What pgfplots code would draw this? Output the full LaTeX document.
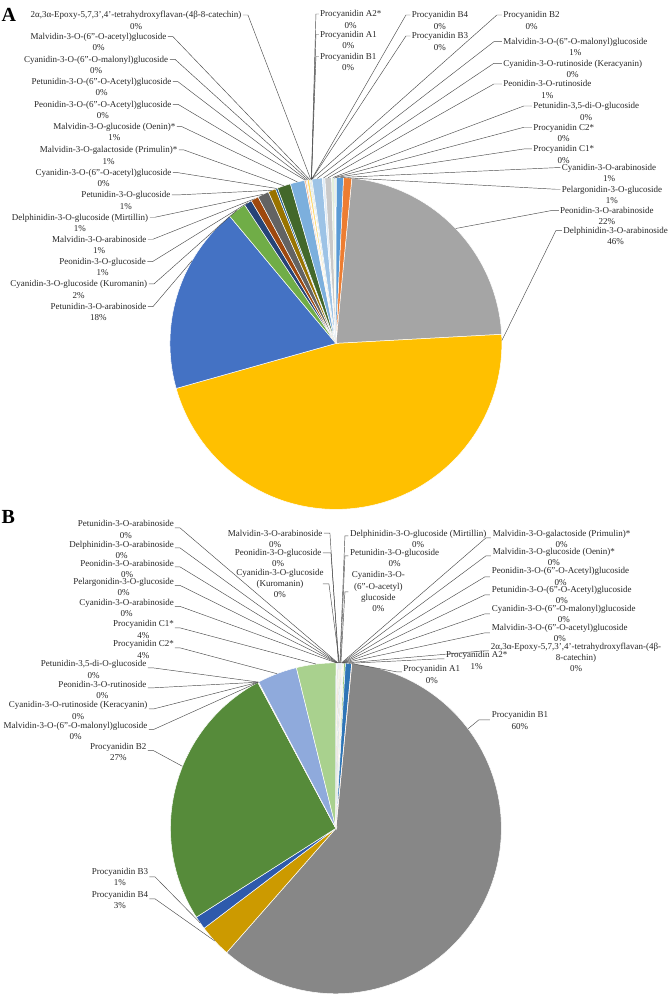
\documentclass[border=0pt]{standalone}
\usepackage{pgfplots}
\pgfplotsset{compat=1.18}
\usepackage{fontspec}
\setmainfont{Liberation Serif}

% pie state: centre, radius, running angle (deg, clockwise from top)
\newcommand\pcx{0}\newcommand\pcy{0}\newcommand\pr{0}\newcommand\cum{0}
\newcommand\setpie[4]{\xdef\pcx{#1}\xdef\pcy{#2}\xdef\pr{#3}\xdef\cum{#4}}
\newcommand\rimat[2]{%
  \pgfmathsetmacro\rimX{\pcx+\pr*sin(#2)}%
  \pgfmathsetmacro\rimY{\pcy-\pr*cos(#2)}%
  \expandafter\xdef\csname rimx#1\endcsname{\rimX}%
  \expandafter\xdef\csname rimy#1\endcsname{\rimY}}
% \slice{id}{percent}{colour}
\newcommand\slice[3]{%
  \xglobal\definecolor{sl#1}{HTML}{#3}%
  \pgfmathsetmacro\slA{\cum}%
  \pgfmathsetmacro\slB{\cum+3.6*#2}%
  \pgfmathtruncatemacro\slN{max(2,(\slB-\slA)/1.5+2)}%
  \rimat{#1}{(\slA+\slB)/2}%
  \edef\tmp{\noexpand\addplot[fill=sl#1, draw=white, line width=0.5pt,
    domain=\slA:\slB, samples=\slN]
    ({\pcx+\pr*sin(x)},{\pcy-\pr*cos(x)}) -- (axis cs:\pcx,\pcy) -- cycle;}%
  \tmp
  \xdef\cum{\slB}}

\tikzset{lbl/.style={inner sep=0pt, font=\fontsize{9}{11}\selectfont, text=black!85},
  ldr/.style={draw=black!70, line width=0.45pt}}
\newcommand\nxt[1]{\node[lbl, anchor=base, yshift=-11.2pt] (t) at (t.base) {#1};}
\newcommand\labL[4]{\node[lbl, anchor=base east, yshift=-3pt] (t) at (axis cs:#1,#2) {#3};\nxt{#4}}
\newcommand\labR[4]{\node[lbl, anchor=base west, yshift=-3pt] (t) at (axis cs:#1,#2) {#3};\nxt{#4}}
% \lead{id}{x1}{x2}{y}
\newcommand\lead[4]{\draw[ldr] (axis cs:#2,#4) -- (axis cs:#3,#4) --
  (axis cs:\csname rimx#1\endcsname,\csname rimy#1\endcsname);}

\begin{document}
\begin{tikzpicture}
\begin{axis}[scale only axis, width=672pt, height=994pt,
  xmin=0, xmax=672, ymin=0, ymax=994, y dir=reverse,
  hide axis, clip=false]
\addplot[draw=none] coordinates {(0,0) (672,994)};

% ---------------- A ----------------
\setpie{336}{343.5}{166}{5.5}
\slice{aPar}{22.6}{A5A5A5}
\slice{aDar}{46.5}{FFC000}
\slice{aPtr}{18.3}{4472C4}
\slice{aKur}{1.8}{70AD47}
\slice{aPeg}{0.75}{264478}
\slice{aMar}{0.75}{9E480E}
\slice{aMir}{1.1}{636363}
\slice{aPtg}{0.75}{997300}
\slice{aCya}{0.2}{255E91}
\slice{aPri}{1.3}{43682B}
\slice{aOen}{1.4}{7CAFDD}
\slice{aPea}{0.15}{F4B183}
\slice{aPta}{0.1}{C9C9C9}
\slice{aCym}{0.2}{FFD966}
\slice{aMac}{0.1}{8FAADC}
\slice{aEpo}{0.1}{A9D18E}
\slice{aA2}{0.01}{335AA1}
\slice{aA1}{0.01}{D26012}
\slice{aB1}{0.01}{848484}
\slice{aB4}{0.01}{CC9A00}
\slice{aB3}{0.01}{3C7DC4}
\slice{aB2}{0.01}{5A8A39}
\slice{aMam}{1.0}{9DC3E6}
\slice{aCyr}{0.25}{DEEBF7}
\slice{aPer}{0.65}{C9C9C9}
\slice{aPt5}{0.25}{E2EFDA}
\slice{aC2}{0.1}{8FAADC}
\slice{aC1}{0.1}{A9D18E}
\slice{aCar}{0.7}{5B9BD5}
\slice{aPel}{0.79}{ED7D31}
\rimat{aDar}{89}
\rimat{aPtr}{300}

% ---------------- B ----------------
\setpie{336}{828.5}{165.5}{5.5}
\slice{bB1}{59.95}{878787}
\slice{bB4}{3.2}{CC9A00}
\slice{bB3}{1.3}{2E5AAC}
\slice{bB2}{26.2}{568B3A}
\slice{bMam}{0.02}{8FAADC}
\slice{bCyr}{0.02}{F4B183}
\slice{bPer}{0.02}{C9C9C9}
\slice{bPt5}{0.02}{FFD966}
\slice{bC2}{3.9}{8FAADC}
\slice{bC1}{3.85}{A9D18E}
\slice{bCar}{0.04}{4472C4}
\slice{bPel}{0.04}{ED7D31}
\slice{bPar}{0.04}{A5A5A5}
\slice{bDar}{0.04}{FFC000}
\slice{bPtr}{0.04}{5B9BD5}
\slice{bMar}{0.05}{9E480E}
\slice{bPeg}{0.05}{264478}
\slice{bKur}{0.05}{70AD47}
\slice{bMir}{0.05}{636363}
\slice{bPtg}{0.05}{997300}
\slice{bCya}{0.05}{255E91}
\slice{bPri}{0.05}{43682B}
\slice{bOen}{0.05}{698ED0}
\slice{bPea}{0.04}{F1975A}
\slice{bPta}{0.04}{B7B7B7}
\slice{bCym}{0.04}{FFCD33}
\slice{bMac}{0.04}{7CAFDD}
\slice{bEpo}{0.15}{8CC168}
\slice{bA2}{0.6}{2E75B6}
\slice{bA1}{0.01}{D26012}
\rimat{bB1}{53}
\rimat{bB2}{292}

% ---------------- labels A ----------------
\node[anchor=base west, inner sep=0pt, font=\bfseries\fontsize{20}{20}\selectfont] at (axis cs:1.5,21.5) {A};
\labL{241.7}{15}{2α,3α-Epoxy-5,7,3',4'-tetrahydroxyflavan-(4β-8-catechin)}{0\%}
\labL{166.7}{36.7}{Malvidin-3-O-(6"-O-acetyl)glucoside}{0\%}
\labL{168.3}{59.3}{Cyanidin-3-O-(6"-O-malonyl)glucoside}{0\%}
\labL{171.7}{81.7}{Petunidin-3-O-(6"-O-Acetyl)glucoside}{0\%}
\labL{171.7}{104.3}{Peonidin-3-O-(6"-O-Acetyl)glucoside}{0\%}
\labL{175.7}{126.7}{Malvidin-3-O-glucoside (Oenin)*}{1\%}
\labL{177.7}{150}{Malvidin-3-O-galactoside (Primulin)*}{1\%}
\labL{171.7}{172.7}{Cyanidin-3-O-(6"-O-acetyl)glucoside}{0\%}
\labL{170.7}{195}{Petunidin-3-O-glucoside}{1\%}
\labL{148.3}{217.3}{Delphinidin-3-O-glucoside (Mirtillin)}{1\%}
\labL{146.7}{239.3}{Malvidin-3-O-arabinoside}{1\%}
\labL{146}{261.7}{Peonidin-3-O-glucoside}{1\%}
\labL{147.3}{284}{Cyanidin-3-O-glucoside (Kuromanin)}{2\%}
\labL{146.7}{306.7}{Petunidin-3-O-arabinoside}{18\%}
\labR{320}{14}{Procyanidin A2*}{0\%}
\labR{320}{34.5}{Procyanidin A1}{0\%}
\labR{320}{56.5}{Procyanidin B1}{0\%}
\labR{411.7}{15}{Procyanidin B4}{0\%}
\labR{411.7}{36}{Procyanidin B3}{0\%}
\labR{503.3}{15}{Procyanidin B2}{0\%}
\labR{503.3}{41.7}{Malvidin-3-O-(6"-O-malonyl)glucoside}{1\%}
\labR{503.3}{63.3}{Cyanidin-3-O-rutinoside (Keracyanin)}{0\%}
\labR{503.3}{84}{Peonidin-3-O-rutinoside}{1\%}
\labR{533.3}{106}{Petunidin-3,5-di-O-glucoside}{0\%}
\labR{533.3}{127.3}{Procyanidin C2*}{0\%}
\labR{533.3}{149}{Procyanidin C1*}{0\%}
\labR{561.7}{167.7}{Cyanidin-3-O-arabinoside}{1\%}
\labR{561.7}{189.3}{Pelargonidin-3-O-glucoside}{1\%}
\labR{560}{210.7}{Peonidin-3-O-arabinoside}{22\%}
\labR{563.3}{230.7}{Delphinidin-3-O-arabinoside}{46\%}

\lead{aEpo}{243}{248}{15}
\lead{aMac}{168}{173}{36.7}
\lead{aCym}{170}{175}{59.3}
\lead{aPta}{173}{178}{81.7}
\lead{aPea}{173}{178}{104.3}
\lead{aOen}{177}{182}{126.7}
\lead{aPri}{179}{184}{150}
\lead{aCya}{173}{178}{172.7}
\lead{aPtg}{172}{177}{195}
\lead{aMir}{150}{155}{217.3}
\lead{aMar}{148}{153}{239.3}
\lead{aPeg}{147.5}{152.5}{261.7}
\lead{aKur}{149}{154}{284}
\lead{aPtr}{148}{153}{306.7}
\lead{aA2}{319}{316}{14}
\lead{aA1}{319}{316}{34.5}
\lead{aB1}{319}{316}{56.5}
\lead{aB4}{410.5}{406}{15}
\lead{aB3}{410.5}{406}{36}
\lead{aB2}{502}{497}{15}
\lead{aMam}{502}{494}{41.7}
\lead{aCyr}{502}{494}{63.3}
\lead{aPer}{502}{494}{84}
\lead{aPt5}{532}{524}{106}
\lead{aC2}{532}{524}{127.3}
\lead{aC1}{532}{524}{149}
\lead{aCar}{560.5}{556}{167.7}
\lead{aPel}{560.5}{556}{189.3}
\lead{aPar}{559}{551}{210.7}
\lead{aDar}{562}{556}{230.7}

% ---------------- labels B ----------------
\node[anchor=base west, inner sep=0pt, font=\bfseries\fontsize{20}{20}\selectfont] at (axis cs:1.5,523.3) {B};
\labL{174}{524}{Petunidin-3-O-arabinoside}{0\%}
\labL{174}{544.3}{Delphinidin-3-O-arabinoside}{0\%}
\labL{174}{563.3}{Peonidin-3-O-arabinoside}{0\%}
\labL{174}{581.7}{Pelargonidin-3-O-glucoside}{0\%}
\labL{174}{602.7}{Cyanidin-3-O-arabinoside}{0\%}
\labL{174}{624}{Procyanidin C1*}{4\%}
\labL{174}{644}{Procyanidin C2*}{4\%}
\labL{146.7}{664}{Petunidin-3,5-di-O-glucoside}{0\%}
\labL{146.7}{684.3}{Peonidin-3-O-rutinoside}{0\%}
\labL{147.7}{705}{Cyanidin-3-O-rutinoside (Keracyanin)}{0\%}
\labL{147.7}{725.7}{Malvidin-3-O-(6"-O-malonyl)glucoside}{0\%}
\labL{146.7}{746.7}{Procyanidin B2}{27\%}
\labL{148.3}{871.7}{Procyanidin B3}{1\%}
\labL{148.3}{894.3}{Procyanidin B4}{3\%}
\labL{322.7}{533.3}{Malvidin-3-O-arabinoside}{0\%}
\labL{321.7}{552.7}{Peonidin-3-O-glucoside}{0\%}
\labL{324}{572.7}{Cyanidin-3-O-glucoside}{(Kuromanin)}\nxt{0\%}
\labR{350}{533.3}{Delphinidin-3-O-glucoside (Mirtillin)}{0\%}
\labR{350}{552.7}{Petunidin-3-O-glucoside}{0\%}
\labR{351.7}{575}{Cyanidin-3-O-}{(6"-O-acetyl)}\nxt{glucoside}\nxt{0\%}
\labR{492.7}{533.3}{Malvidin-3-O-galactoside (Primulin)*}{0\%}
\labR{492.7}{551.7}{Malvidin-3-O-glucoside (Oenin)*}{0\%}
\labR{491.7}{571}{Peonidin-3-O-(6"-O-Acetyl)glucoside}{0\%}
\labR{491.7}{589.3}{Petunidin-3-O-(6"-O-Acetyl)glucoside}{0\%}
\labR{491.7}{608.3}{Cyanidin-3-O-(6"-O-malonyl)glucoside}{0\%}
\labR{491.7}{627.7}{Malvidin-3-O-(6"-O-acetyl)glucoside}{0\%}
\labR{490.7}{646.7}{2α,3α-Epoxy-5,7,3',4'-tetrahydroxyflavan-(4β-}{8-catechin)}\nxt{0\%}
\labR{446}{655}{Procyanidin A2*}{1\%}
\labR{403.3}{669}{Procyanidin A1}{0\%}
\labR{491.7}{715}{Procyanidin B1}{60\%}

\lead{bPtr}{175}{180}{528}
\lead{bDar}{175}{180}{548}
\lead{bPar}{175}{180}{567}
\lead{bPel}{175}{180}{585.5}
\lead{bCar}{175}{180}{606.5}
\lead{bC1}{175}{180}{628}
\lead{bC2}{175}{180}{648}
\lead{bPt5}{148}{153}{668}
\lead{bPer}{148}{153}{688}
\lead{bCyr}{149}{154}{709}
\lead{bMam}{149}{154}{729.5}
\lead{bB2}{148}{153}{750.5}
\lead{bB3}{149.5}{155}{877}
\lead{bB4}{149.5}{155}{899}
\lead{bMar}{324}{330}{533.3}
\lead{bPeg}{323}{331}{553}
\lead{bKur}{323}{329}{584}
\lead{bMir}{348.5}{345}{536}
\lead{bPtg}{348.5}{345}{556}
\lead{bCya}{348.5}{345}{592}
\lead{bPri}{491}{486}{538}
\lead{bOen}{491}{486}{556}
\lead{bPea}{490}{485}{577}
\lead{bPta}{490}{485}{595}
\lead{bCym}{490}{485}{614}
\lead{bMac}{490}{485}{633}
\lead{bEpo}{489}{484}{651}
\lead{bA2}{444.5}{440}{659}
\lead{bA1}{402}{397}{672}
\lead{bB1}{490}{479}{720}
\end{axis}
\end{tikzpicture}
\end{document}
